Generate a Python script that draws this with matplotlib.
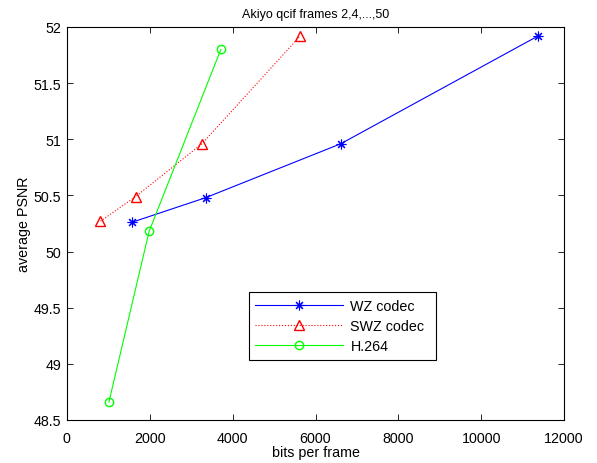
import matplotlib
matplotlib.use('Agg')
import matplotlib.pyplot as plt

plt.rcParams['font.family'] = ['Liberation Sans', 'DejaVu Sans']
plt.rcParams['font.size'] = 10.3

wz_bits = [1565, 3350, 6610, 11370]
wz_psnr = [50.26, 50.48, 50.96, 51.92]
swz_bits = [810, 1660, 3260, 5630]
swz_psnr = [50.27, 50.49, 50.96, 51.92]
h264_bits = [1015, 1985, 3715]
h264_psnr = [48.66, 50.18, 51.80]

fig = plt.figure(figsize=(5.97, 4.64), dpi=100)
ax = fig.add_axes([0.112, 0.0927, 0.833, 0.847])

ax.plot(wz_bits, wz_psnr, '-', color='blue', marker=(8, 2, 0), markersize=7,
        markeredgewidth=0.8, lw=0.8, label='WZ codec')
ax.plot(swz_bits, swz_psnr, ':', color='red', marker='^', markersize=7, lw=0.8,
        markerfacecolor='none', label='SWZ codec')
ax.plot(h264_bits, h264_psnr, '-', color='lime', marker='o', markersize=6, lw=0.8,
        markerfacecolor='none', label='H.264')

ax.set_xlim(0, 12000)
ax.set_ylim(48.5, 52)
ax.set_xticks(range(0, 12001, 2000))
ax.set_yticks([48.5, 49, 49.5, 50, 50.5, 51, 51.5, 52])
ax.set_yticklabels(['48.5', '49', '49.5', '50', '50.5', '51', '51.5', '52'])
ax.tick_params(direction='in', top=True, right=True, length=4, width=0.6)
ax.tick_params(axis='x', pad=8)
ax.tick_params(axis='y', pad=4)
for s in ax.spines.values():
    s.set_linewidth(0.8)

ax.set_xlabel('bits per frame')
ax.set_ylabel('average PSNR')
ax.xaxis.set_label_coords(0.5, -0.063)
ax.yaxis.set_label_coords(-0.073, 0.5)
ax.set_title('Akiyo qcif frames 2,4,...,50', fontsize=9, pad=7)

leg = ax.legend(loc='lower left', bbox_to_anchor=(0.366, 0.153, 0.376, 0.168),
                mode='expand', borderaxespad=0, fancybox=False, edgecolor='black',
                framealpha=1, handlelength=6.1, handletextpad=0.55,
                borderpad=0.45, labelspacing=0.45)
leg.get_frame().set_linewidth(0.8)

fig.savefig('out.png', dpi=100)
